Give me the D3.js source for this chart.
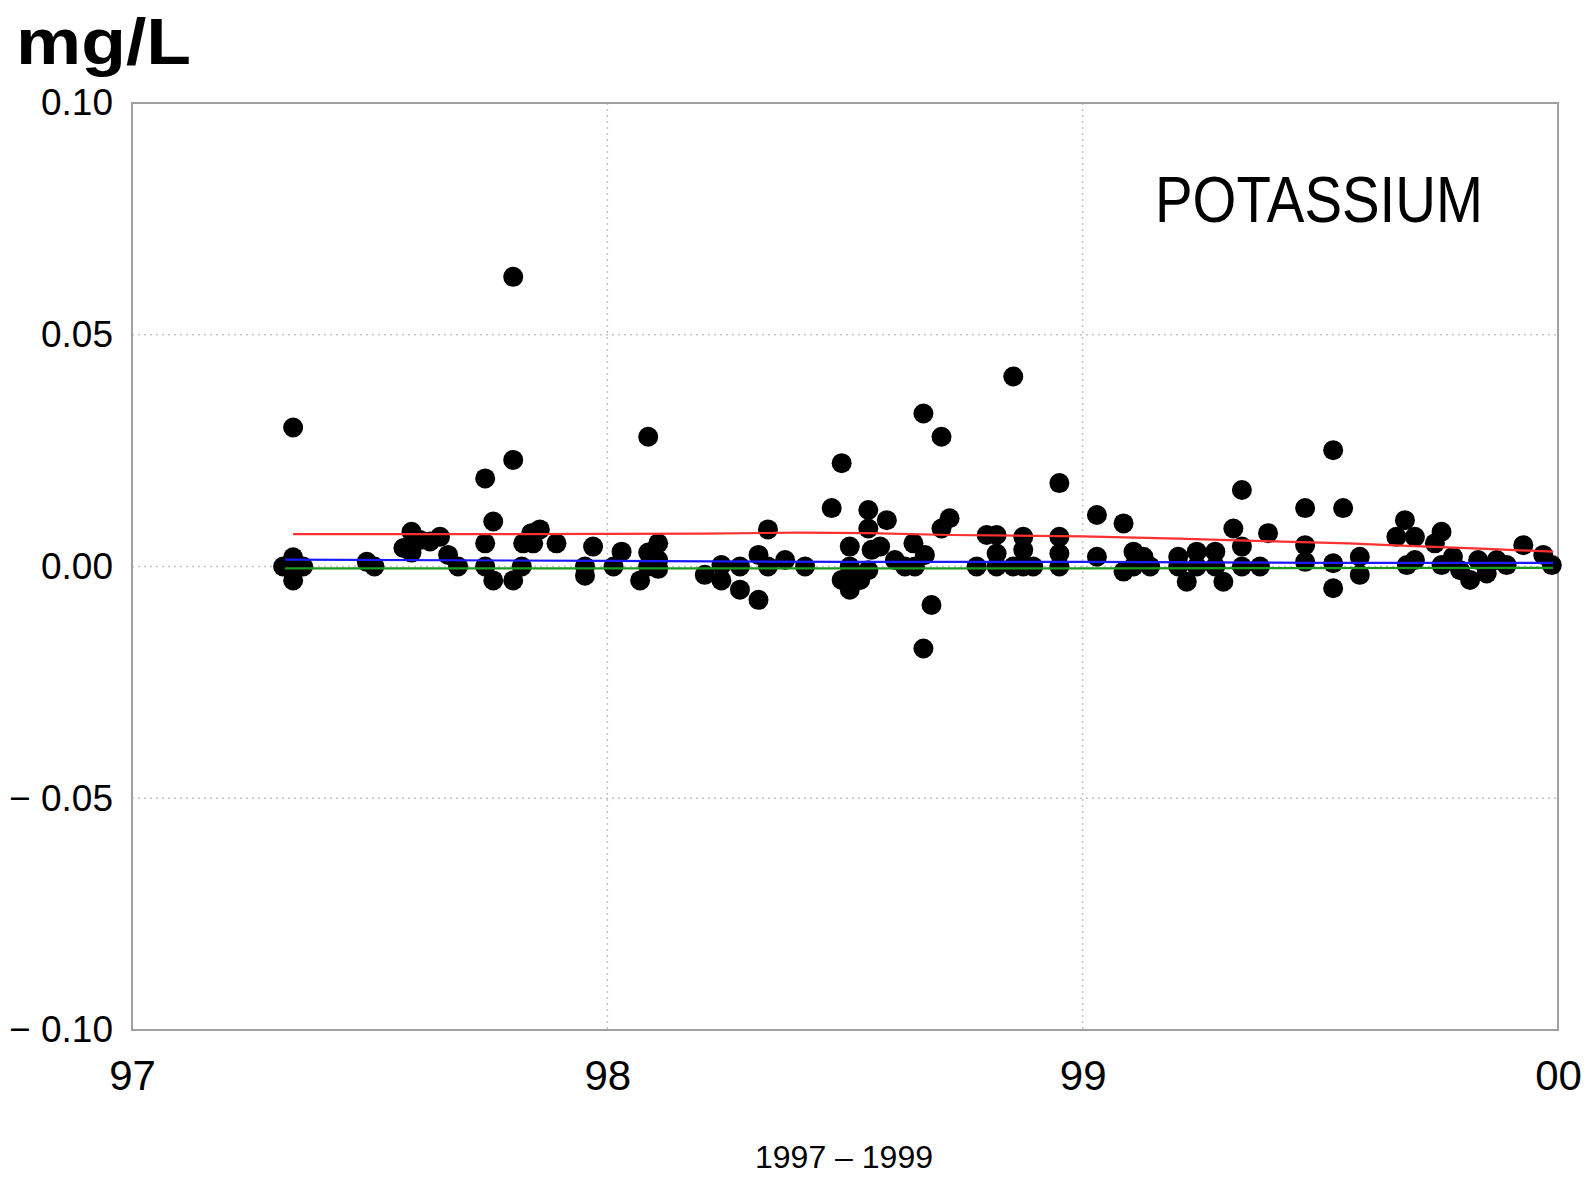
<!DOCTYPE html>
<html>
<head>
<meta charset="utf-8">
<script src="https://cdn.jsdelivr.net/npm/d3@7"></script>
<style>
  body { margin: 0; background: #fff; }
  text { font-family: "Liberation Sans", Arial, Helvetica, sans-serif; }
</style>
</head>
<body>
<div id="chart"></div>
<script>
// decimal year of each sample
var sampleYears = [
  1997.318, 1997.339, 1997.339, 1997.339, 1997.339, 1997.360, 1997.494, 1997.510,
  1997.571, 1997.588, 1997.588, 1997.606, 1997.627, 1997.648, 1997.665, 1997.686,
  1997.743, 1997.743, 1997.743, 1997.760, 1997.760, 1997.802, 1997.802, 1997.802,
  1997.820, 1997.823, 1997.840, 1997.844, 1997.858, 1997.893, 1997.953, 1997.953,
  1997.970, 1998.013, 1998.030, 1998.069, 1998.086, 1998.086, 1998.086, 1998.107,
  1998.107, 1998.107, 1998.205, 1998.240, 1998.240, 1998.279, 1998.279, 1998.318,
  1998.318, 1998.338, 1998.338, 1998.374, 1998.416, 1998.472, 1998.493, 1998.493,
  1998.510, 1998.510, 1998.510, 1998.532, 1998.549, 1998.549, 1998.549, 1998.556,
  1998.574, 1998.588, 1998.605, 1998.626, 1998.644, 1998.647, 1998.668, 1998.665,
  1998.665, 1998.682, 1998.703, 1998.703, 1998.720, 1998.777, 1998.798, 1998.819,
  1998.819, 1998.819, 1998.854, 1998.854, 1998.875, 1998.875, 1998.875, 1998.896,
  1998.951, 1998.951, 1998.951, 1998.951, 1999.030, 1999.030, 1999.086, 1999.086,
  1999.107, 1999.107, 1999.128, 1999.142, 1999.201, 1999.201, 1999.219, 1999.240,
  1999.240, 1999.279, 1999.279, 1999.296, 1999.317, 1999.335, 1999.335, 1999.335,
  1999.373, 1999.390, 1999.468, 1999.468, 1999.468, 1999.527, 1999.527, 1999.527,
  1999.548, 1999.583, 1999.583, 1999.660, 1999.678, 1999.682, 1999.699, 1999.699,
  1999.741, 1999.755, 1999.755, 1999.779, 1999.794, 1999.815, 1999.832, 1999.850,
  1999.871, 1999.892, 1999.927, 1999.969, 1999.987
];
// potassium difference, mg/L
var sampleValues = [
  0.000, 0.030, 0.002, 0.000, -0.003, 0.000, 0.001, 0.000,
  0.004, 0.0075, 0.003, 0.0057, 0.0054, 0.0064, 0.0025, 0.000,
  0.019, 0.005, 0.000, 0.0097, -0.003, 0.0625, 0.023, -0.003,
  0.000, 0.005, 0.0072, 0.005, 0.008, 0.005, 0.000, -0.002,
  0.0043, 0.000, 0.0032, -0.003, 0.028, 0.003, 0.000, 0.005,
  0.0014, -0.0005, -0.0018, 0.0003, -0.003, 0.000, -0.005, 0.0025,
  -0.0072, 0.008, 0.000, 0.0014, 0.000, 0.0126, 0.0223, -0.0029,
  0.0043, 0.000, -0.005, -0.0029, 0.0122, 0.0082, -0.0008, 0.0036,
  0.0043, 0.010, 0.0014, 0.000, 0.005, 0.000, 0.0025, 0.033,
  -0.0177, -0.0083, 0.028, 0.0082, 0.0104, 0.000, 0.0068, 0.0068,
  0.0028, 0.000, 0.041, 0.000, 0.0064, 0.0036, 0.000, 0.000,
  0.018, 0.0064, 0.0028, 0.000, 0.0111, 0.0021, 0.0093, -0.0011,
  0.0032, 0.000, 0.0021, 0.000, 0.0021, 0.000, -0.0033, 0.0032,
  0.000, 0.0032, 0.000, -0.0033, 0.0082, 0.0165, 0.0043, 0.000,
  0.000, 0.0072, 0.0126, 0.0046, 0.001, 0.0251, 0.0007, -0.0047,
  0.0126, 0.0021, -0.0018, 0.0064, 0.010, 0.0003, 0.0064, 0.0014,
  0.005, 0.0075, 0.0003, 0.0021, -0.0008, -0.0029, 0.0014, -0.0015,
  0.0014, 0.0003, 0.0046, 0.0025, 0.0003
];

// smoothed lines
var redYears   = [1997.339, 1997.8, 1998.2, 1998.4, 1998.55, 1998.72, 1998.9, 1999.0, 1999.2, 1999.4, 1999.56, 1999.67, 1999.85, 1999.99];
var redValues  = [0.0070, 0.0070, 0.0071, 0.0073, 0.0072, 0.0068, 0.0066, 0.0065, 0.0060, 0.0054, 0.0050, 0.0045, 0.0038, 0.0032];
var blueYears  = [1997.322, 1998.0, 1998.5, 1999.0, 1999.5, 1999.99];
var blueValues = [0.0015, 0.0012, 0.0010, 0.0010, 0.0008, 0.0008];
var greenYears  = [1997.322, 1998.0, 1999.0, 1999.99];
var greenValues = [-0.0004, -0.0004, -0.0004, -0.0003];

var yTicks = [-0.1, -0.05, 0, 0.05, 0.1];
var yTickLabels = ["\u2212 0.10", "\u2212 0.05", "0.00", "0.05", "0.10"];
var xTicks = [1997, 1998, 1999, 2000];
var xTickLabels = ["97", "98", "99", "00"];

var svgWidth = 1591;
var svgHeight = 1177;
var plotLeft = 132, plotRight = 1558, plotTop = 103, plotBottom = 1030;

var svg = d3.select("#chart")
  .append("svg")
  .attr("width", svgWidth)
  .attr("height", svgHeight);

var xScale = d3.scaleLinear().domain([1997, 2000]).range([plotLeft, plotRight]);
var yScale = d3.scaleLinear().domain([-0.1, 0.1]).range([plotBottom, plotTop]);

// dotted grid
svg.append("g").selectAll("line")
  .data([1998, 1999])
  .enter().append("line")
  .attr("x1", d => xScale(d)).attr("x2", d => xScale(d))
  .attr("y1", plotTop).attr("y2", plotBottom)
  .attr("stroke", "#c4c4c4").attr("stroke-width", 1.5)
  .attr("stroke-dasharray", "2,4");

svg.append("g").selectAll("line")
  .data([-0.05, 0, 0.05])
  .enter().append("line")
  .attr("x1", plotLeft).attr("x2", plotRight)
  .attr("y1", d => yScale(d)).attr("y2", d => yScale(d))
  .attr("stroke", "#c4c4c4").attr("stroke-width", 1.5)
  .attr("stroke-dasharray", "2,4");

// frame
svg.append("rect")
  .attr("x", plotLeft).attr("y", plotTop)
  .attr("width", plotRight - plotLeft).attr("height", plotBottom - plotTop)
  .attr("fill", "none")
  .attr("stroke", "#a0a0a0")
  .attr("stroke-width", 2);

// axes (labels only)
var leftAxis = d3.axisLeft(yScale)
  .tickValues(yTicks)
  .tickSize(0)
  .tickPadding(19)
  .tickFormat((d, i) => yTickLabels[i]);

var bottomAxis = d3.axisBottom(xScale)
  .tickValues(xTicks)
  .tickSize(0)
  .tickPadding(30)
  .tickFormat((d, i) => xTickLabels[i]);

var yAxisG = svg.append("g")
  .attr("transform", `translate(${plotLeft},0)`)
  .call(leftAxis);
yAxisG.select(".domain").remove();
yAxisG.selectAll("text")
  .attr("font-size", 37)
  .attr("font-family", "Liberation Sans, Arial, sans-serif")
  .attr("fill", "#000");

var xAxisG = svg.append("g")
  .attr("transform", `translate(0,${plotBottom})`)
  .call(bottomAxis);
xAxisG.select(".domain").remove();
xAxisG.selectAll("text")
  .attr("font-size", 42)
  .attr("font-family", "Liberation Sans, Arial, sans-serif")
  .attr("fill", "#000");

// points
var points = sampleYears.map((yr, i) => ({ year: yr, value: sampleValues[i] }));

svg.append("g").selectAll("circle")
  .data(points)
  .enter().append("circle")
  .attr("cx", d => xScale(d.year))
  .attr("cy", d => yScale(d.value))
  .attr("r", 10)
  .attr("fill", "#000");

// trend lines
var line = d3.line()
  .x(d => xScale(d[0]))
  .y(d => yScale(d[1]));

function drawLine(years, values, colour) {
  svg.append("path")
    .datum(years.map((yr, i) => [yr, values[i]]))
    .attr("d", line)
    .attr("fill", "none")
    .attr("stroke", colour)
    .attr("stroke-width", 2.2);
}
drawLine(greenYears, greenValues, "#1f9a1f");
drawLine(blueYears, blueValues, "#1a1aff");
drawLine(redYears, redValues, "#ff3030");

// labels
svg.append("text")
  .attr("x", 16).attr("y", 64)
  .attr("font-size", 64)
  .attr("font-weight", "bold")
  .attr("textLength", 175)
  .attr("lengthAdjust", "spacingAndGlyphs")
  .text("mg/L");

svg.append("text")
  .attr("x", 1155).attr("y", 222)
  .attr("font-size", 64)
  .attr("textLength", 328)
  .attr("lengthAdjust", "spacingAndGlyphs")
  .text("POTASSIUM");

svg.append("text")
  .attr("x", (plotLeft + plotRight) / 2 - 1).attr("y", 1168)
  .attr("text-anchor", "middle")
  .attr("font-size", 32)
  .text("1997 \u2013 1999");
</script>
</body>
</html>
